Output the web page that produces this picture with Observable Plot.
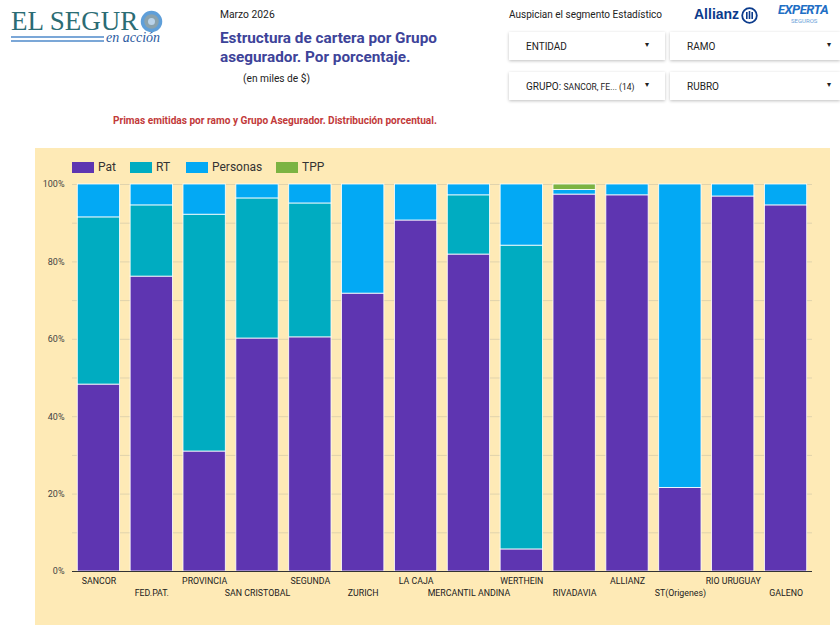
<!DOCTYPE html>
<html>
<head>
<meta charset="utf-8">
<script src="https://cdn.jsdelivr.net/npm/d3@7"></script>
<script src="https://cdn.jsdelivr.net/npm/@observablehq/plot@0.6"></script>
<style>
  html, body { margin: 0; padding: 0; background: #fff; }
  body { width: 840px; height: 631px; position: relative; overflow: hidden; font-family: Roboto, "Noto Sans", sans-serif; }
  .abs { position: absolute; white-space: nowrap; }
  .dd { position: absolute; background: #fff; box-shadow: 0 1px 3px rgba(0,0,0,0.25); font-size: 10px; color: #222; }
  .dd .lbl { position: absolute; left: 17px; top: 9px; }
  .dd .car { position: absolute; top: 8px; font-size: 8px; }
  #panel { position: absolute; left: 35px; top: 148px; width: 795px; height: 477px; background: #feeab6; }
  #legend { position: absolute; left: 0; top: 0; height: 30px; width: 795px; font-size: 12px; color: #333; }
  .sw { position: absolute; top: 14px; width: 22px; height: 11px; }
  .lt { position: absolute; top: 12px; }
  #chart { position: absolute; left: 0; top: 30px; }
</style>
</head>
<body>
<!-- Logo -->
<div class="abs" style="left:11px;top:10.5px;font-family:'Liberation Serif','DejaVu Serif',serif;font-size:27px;line-height:20px;color:#2b6c74;">EL SEGUR</div>
<svg class="abs" style="left:140px;top:10px;" width="23" height="23"><circle cx="11.5" cy="11.5" r="9" fill="#8aa2ad" stroke="#5f9fd9" stroke-width="3.5"/><circle cx="11.5" cy="11.5" r="3.5" fill="#b9d3ea"/></svg>
<div class="abs" style="left:11px;top:36px;width:93px;height:2px;background:#7ba7d7;"></div>
<div class="abs" style="left:11px;top:40px;width:93px;height:2px;background:#7ba7d7;"></div>
<div class="abs" style="left:106px;top:32px;font-family:'Liberation Serif','DejaVu Serif',serif;font-style:italic;font-size:14px;line-height:12px;color:#2b5aa0;">en acción</div>

<!-- Titles -->
<div class="abs" style="left:220px;top:8px;font-size:10.3px;color:#222;">Marzo 2026</div>
<div class="abs" style="left:220px;top:29px;font-size:15.3px;font-weight:bold;color:#3d4399;line-height:19px;">Estructura de cartera por Grupo<br>asegurador. Por porcentaje.</div>
<div class="abs" style="left:243px;top:73px;font-size:10.2px;color:#222;">(en miles de $)</div>
<div class="abs" style="left:113px;top:115px;font-size:10.1px;font-weight:bold;color:#c23a3a;">Primas emitidas por ramo y Grupo Asegurador. Distribución porcentual.</div>

<!-- Sponsors -->
<div class="abs" style="left:509px;top:9px;font-size:10px;color:#222;">Auspician el segmento Estadístico</div>
<div class="abs" style="left:694px;top:6px;font-size:14px;font-weight:900;color:#0b3b8c;font-family:'Liberation Sans',Arial,sans-serif;">Allianz</div>
<svg class="abs" style="left:741px;top:7px;" width="17" height="17"><circle cx="8.5" cy="8.5" r="7.3" fill="none" stroke="#0b3b8c" stroke-width="1.8"/><rect x="5" y="5" width="1.6" height="7" fill="#0b3b8c"/><rect x="7.7" y="4" width="1.6" height="8" fill="#0b3b8c"/><rect x="10.4" y="5" width="1.6" height="7" fill="#0b3b8c"/></svg>
<div class="abs" style="left:778px;top:2px;font-size:13px;line-height:15px;font-weight:bold;font-style:italic;color:#1f6fc5;letter-spacing:-0.5px;">EXPERTA</div>
<div class="abs" style="left:791px;top:17px;font-size:6px;line-height:7px;color:#6a9fd8;">SEGUROS</div>

<!-- Dropdowns -->
<div class="dd" style="left:509px;top:32px;width:156px;height:28px;"><span class="lbl">ENTIDAD</span><span class="car" style="left:136px;">▾</span></div>
<div class="dd" style="left:670px;top:32px;width:170px;height:28px;"><span class="lbl">RAMO</span><span class="car" style="left:157px;">▾</span></div>
<div class="dd" style="left:509px;top:72px;width:156px;height:28px;"><span class="lbl">GRUPO: <span style="font-size:8.5px;">SANCOR, FE... (14)</span></span><span class="car" style="left:136px;">▾</span></div>
<div class="dd" style="left:670px;top:72px;width:170px;height:28px;"><span class="lbl">RUBRO</span><span class="car" style="left:157px;">▾</span></div>

<div id="panel">
  <div id="legend"></div>
  <div id="chart"></div>
</div>

<script>
const groups = ["SANCOR","FED.PAT.","PROVINCIA","SAN CRISTOBAL","SEGUNDA","ZURICH","LA CAJA","MERCANTIL ANDINA","WERTHEIN","RIVADAVIA","ALLIANZ","ST(Origenes)","RIO URUGUAY","GALENO"];
const pat      = [48.3, 76.2, 31.0, 60.2, 60.5, 71.8, 90.7, 81.9,  5.7, 97.4, 97.2, 21.6, 96.9, 94.6];
const rt       = [43.2, 18.4, 61.2, 36.2, 34.6,  0.0,  0.0, 15.3, 78.5,  0.0,  0.0,  0.0,  0.0,  0.0];
const personas = [ 8.5,  5.4,  7.8,  3.6,  4.9, 28.2,  9.3,  2.8, 15.8,  1.2,  2.8, 78.4,  3.1,  5.4];
const tpp      = [ 0.0,  0.0,  0.0,  0.0,  0.0,  0.0,  0.0,  0.0,  0.0,  1.4,  0.0,  0.0,  0.0,  0.0];
const seriesNames = ["Pat","RT","Personas","TPP"];
const seriesColors = ["#5e35b1","#00acc1","#03a9f4","#7cb342"];
const yTicks = [0, 20, 40, 60, 80, 100];
const gridTicks = [10, 20, 30, 40, 50, 60, 70, 80, 90, 100];

const seriesValues = [pat, rt, personas, tpp];
const rows = [];
groups.forEach((g, i) => {
  seriesNames.forEach((s, j) => {
    const v = seriesValues[j][i];
    if (v > 0) rows.push({group: g, serie: s, value: v});
  });
});
const labelsTop = groups.filter((g, i) => i % 2 === 0);
const labelsLow = groups.filter((g, i) => i % 2 === 1);

// legend
const legend = document.getElementById("legend");
const legendX = [37, 95, 151, 241];
seriesNames.forEach((s, j) => {
  const sw = document.createElement("div");
  sw.className = "sw"; sw.style.left = legendX[j] + "px"; sw.style.background = seriesColors[j];
  legend.appendChild(sw);
  const t = document.createElement("div");
  t.className = "lt"; t.style.left = (legendX[j] + 26) + "px"; t.textContent = s;
  legend.appendChild(t);
});

const chart = Plot.plot({
  width: 795,
  height: 447,
  marginTop: 6,
  marginBottom: 54,
  marginLeft: 37,
  marginRight: 18,
  style: {background: "transparent", fontFamily: "Roboto, sans-serif", fontSize: "9px", color: "#444"},
  x: {domain: groups, paddingInner: 0.2, paddingOuter: 0.1, round: false, axis: null},
  y: {domain: [0, 100], ticks: yTicks, tickFormat: d => d + "%", tickSize: 0, tickPadding: 8, label: null},
  color: {domain: seriesNames, range: seriesColors},
  marks: [
    Plot.ruleY(gridTicks, {stroke: "#e0d3ad", strokeWidth: 1}),
    Plot.barY(rows, Plot.stackY({order: null}, {x: "group", y: "value", fill: "serie", stroke: "#ffffff", strokeWidth: 0.8})),
    Plot.ruleY([0], {stroke: "#333", strokeWidth: 1.2}),
    Plot.text(labelsTop, {x: d => d, text: d => d, frameAnchor: "bottom", dy: 12.5, fill: "#222", fontSize: 8.8}),
    Plot.text(labelsLow, {x: d => d, text: d => d, frameAnchor: "bottom", dy: 24.5, fill: "#222", fontSize: 8.8})
  ]
});
document.getElementById("chart").appendChild(chart);
</script>
</body>
</html>
